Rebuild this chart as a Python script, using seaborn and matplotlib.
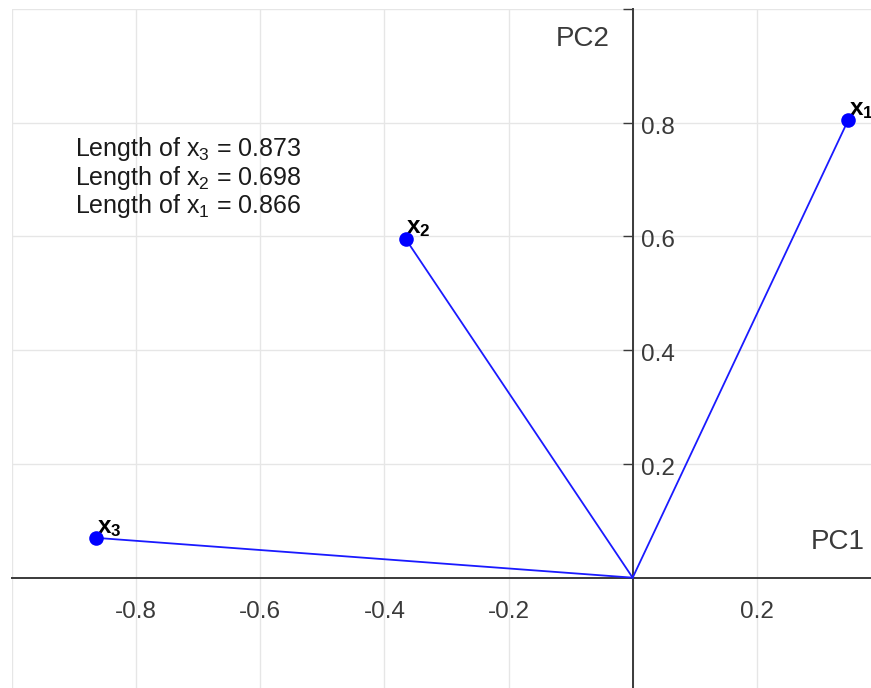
import matplotlib
matplotlib.use("Agg")
import matplotlib.pyplot as plt
import matplotlib.transforms as mtransforms
import seaborn as sns
import pandas as pd

names = ["x1", "x2", "x3"]
pc1 = [0.347, -0.366, -0.864]
pc2 = [0.804, 0.596, 0.070]
length_labels = ["3", "2", "1"]
length_values = ["0.873", "0.698", "0.866"]
xticks = [-1.0, -0.8, -0.6, -0.4, -0.2, 0.0, 0.2]
xticklabels = ["", "-0.8", "-0.6", "-0.4", "-0.2", "", "0.2"]
yticks = [0.2, 0.4, 0.6, 0.8, 1.0]
yticklabels = ["0.2", "0.4", "0.6", "0.8", ""]

sns.set_theme(style="white")
plt.rcParams['font.family'] = ['Liberation Sans', 'DejaVu Sans']
plt.rcParams['mathtext.fontset'] = 'custom'
plt.rcParams['mathtext.rm'] = 'Liberation Sans'
plt.rcParams['mathtext.bf'] = 'Liberation Sans:bold'

W, H = 871, 688
fig = plt.figure(figsize=(W / 100, H / 100), dpi=100)
ax = fig.add_axes([12 / W, 0, 1 - 12 / W, (H - 9) / H])
ax.set_xlim(-1.0, 0.384)
ax.set_ylim(-0.194, 1.0)

axcol = "#3a3a3a"
ax.set_xticks(xticks)
ax.set_yticks(yticks)
ax.grid(True, color="#e6e6e6", linewidth=1.0)
ax.set_axisbelow(True)

df = pd.DataFrame({"name": names, "PC1": pc1, "PC2": pc2})
for _, r in df.iterrows():
    seg = pd.DataFrame({"PC1": [0.0, r.PC1], "PC2": [0.0, r.PC2]})
    sns.lineplot(data=seg, x="PC1", y="PC2", ax=ax, color=(0.1, 0.1, 1.0),
                 linewidth=1.3, sort=False, estimator=None, zorder=3)
sns.scatterplot(data=df, x="PC1", y="PC2", ax=ax, color=(0, 0, 1), s=110,
                edgecolor=(0, 0, 1), linewidth=0, zorder=4)
for _, r in df.iterrows():
    ax.annotate(r"$\mathbf{x_{%s}}$" % r["name"][1], (r.PC1, r.PC2),
                xytext=(0.5, -0.5), textcoords="offset points", ha="left", va="bottom",
                fontsize=17.5, color="black", clip_on=False)

for s in ["top", "left"]:
    ax.spines[s].set_visible(False)
ax.spines["bottom"].set_position(("data", 0))
ax.spines["right"].set_position(("data", 0))
for s in ["bottom", "right"]:
    ax.spines[s].set_color(axcol)
    ax.spines[s].set_linewidth(1.4)
ax.yaxis.tick_right()
ax.set_xticklabels(xticklabels)
ax.set_yticklabels(yticklabels)
ax.tick_params(axis="x", direction="in", length=7, width=1.0, color=axcol,
               labelcolor=axcol, labelsize=17.5, pad=17)
ax.tick_params(axis="y", direction="in", length=7, width=1.0, color=axcol,
               labelcolor=axcol, labelsize=17.5, pad=6)
shift = mtransforms.ScaledTranslation(0, -3.5 / 72, fig.dpi_scale_trans)
for lab in ax.get_yticklabels():
    lab.set_va("center")
    lab.set_transform(lab.get_transform() + shift)
ax.set_xlabel("")
ax.set_ylabel("")

ax.text(-0.081, 0.948, "PC2", fontsize=20, color=axcol, ha="center", va="center")
ax.text(0.331, 0.063, "PC1", fontsize=20, color=axcol, ha="center", va="center")

ys = [0.754, 0.703, 0.653]
for y, sub, val in zip(ys, length_labels, length_values):
    ax.text(-0.898, y, r"Length of x$_{%s}$ = %s" % (sub, val), fontsize=18,
            color="#1a1a1a", ha="left", va="center")

fig.savefig("out.png", dpi=100, facecolor="white")
